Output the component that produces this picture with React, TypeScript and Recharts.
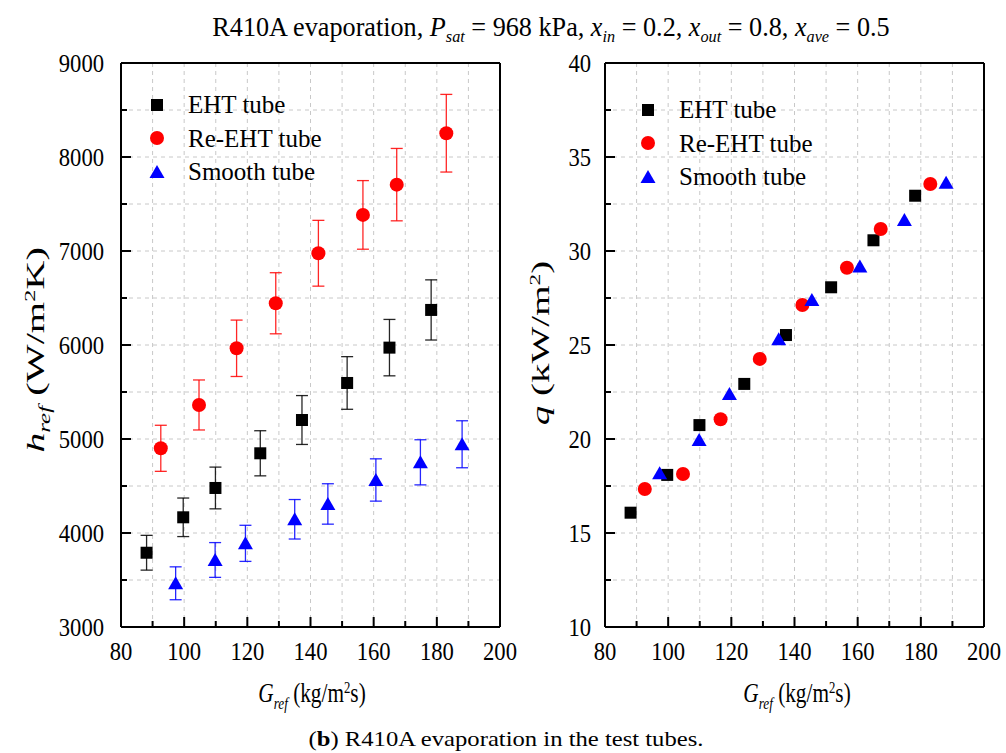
import React from "react";
import { ScatterChart, Scatter, XAxis, YAxis, CartesianGrid, ErrorBar, Legend } from "recharts";

const FONT = '"Liberation Serif", serif';

// mass flux G_ref (kg/m2s) of each test tube
const ehtG = [88.1, 99.7, 109.9, 124.1, 137.3, 151.6, 165.0, 178.2];
const reEhtG = [92.6, 104.7, 116.6, 129.0, 142.5, 156.6, 167.3, 183.0];
const smoothG = [97.3, 109.8, 119.4, 135.0, 145.5, 160.7, 174.8, 188.0];

// heat transfer coefficient h_ref (W/m2K) with uncertainty
const ehtH = [3790, 4167, 4479, 4848, 5202, 5596, 5972, 6373];
const ehtHErr = [185, 205, 222, 240, 260, 280, 300, 320];
const reEhtH = [4901, 5362, 5965, 6444, 6976, 7384, 7706, 8253];
const reEhtHErr = [245, 266, 300, 325, 350, 365, 385, 413];
const smoothH = [3465, 3713, 3890, 4146, 4309, 4564, 4752, 4944];
const smoothHErr = [175, 185, 192, 210, 215, 225, 240, 250];

// heat flux q (kW/m2)
const ehtQ = [16.08, 18.09, 20.74, 22.93, 25.53, 28.07, 30.57, 32.94];
const reEhtQ = [17.34, 18.14, 21.05, 24.26, 27.13, 29.11, 31.17, 33.56];
const smoothQ = [18.18, 19.95, 22.39, 25.3, 27.39, 29.17, 31.65, 33.63];

// axis ticks (every tick gets a grid line, only the labelled ones are major)
const gTicks = [80, 90, 100, 110, 120, 130, 140, 150, 160, 170, 180, 190, 200];
const gLabels = [80, 100, 120, 140, 160, 180, 200];
const hTicks = [3000, 3500, 4000, 4500, 5000, 5500, 6000, 6500, 7000, 7500, 8000, 8500, 9000];
const hLabels = [3000, 4000, 5000, 6000, 7000, 8000, 9000];
const qTicks = [10, 12.5, 15, 17.5, 20, 22.5, 25, 27.5, 30, 32.5, 35, 37.5, 40];
const qLabels = [10, 15, 20, 25, 30, 35, 40];

type Kind = "square" | "circle" | "triangle";

const tubes: { name: string; color: string; kind: Kind }[] = [
  { name: "EHT tube", color: "#000000", kind: "square" },
  { name: "Re-EHT tube", color: "#ff0000", kind: "circle" },
  { name: "Smooth tube", color: "#0000ff", kind: "triangle" },
];

const hSeries = [
  ehtG.map((g, i) => ({ g, v: ehtH[i], err: ehtHErr[i] })),
  reEhtG.map((g, i) => ({ g, v: reEhtH[i], err: reEhtHErr[i] })),
  smoothG.map((g, i) => ({ g, v: smoothH[i], err: smoothHErr[i] })),
];

const qSeries = [
  ehtG.map((g, i) => ({ g, v: ehtQ[i] })),
  reEhtG.map((g, i) => ({ g, v: reEhtQ[i] })),
  smoothG.map((g, i) => ({ g, v: smoothQ[i] })),
];

function Marker({ kind, cx, cy, color }: { kind: Kind; cx: number; cy: number; color: string }) {
  if (kind === "square") return <rect x={cx - 6} y={cy - 6} width={12} height={12} fill={color} />;
  if (kind === "circle") return <circle cx={cx} cy={cy} r={7} fill={color} />;
  return <polygon points={`${cx},${cy - 7} ${cx + 7.5},${cy + 6} ${cx - 7.5},${cy + 6}`} fill={color} />;
}

// inward tick marks on all four sides, labels only on bottom/left
function AxisTick(props: any) {
  const { x, y, payload, side, labels, gap } = props;
  const major = labels.includes(payload.value);
  const len = major ? 10 : 6;
  const common = { stroke: "#000", strokeWidth: 2 };
  const label = (tx: number, ty: number, anchor: "middle" | "end") => (
    <text
      transform={`translate(${tx},${ty}) scale(0.87,1)`}
      textAnchor={anchor}
      fontFamily={FONT}
      fontSize={26}
      fill="#000"
    >
      {payload.value}
    </text>
  );
  if (side === "bottom") {
    return (
      <g>
        <line x1={x} x2={x} y1={y} y2={y - len} {...common} />
        {major && label(x, y + gap, "middle")}
      </g>
    );
  }
  if (side === "top") return <line x1={x} x2={x} y1={y} y2={y + len} {...common} />;
  if (side === "left") {
    return (
      <g>
        <line x1={x} x2={x + len} y1={y} y2={y} {...common} />
        {major && label(x - gap, y + 9, "end")}
      </g>
    );
  }
  return <line x1={x} x2={x - len} y1={y} y2={y} {...common} />;
}

function LegendBox() {
  return (
    <div style={{ fontFamily: FONT }}>
      {tubes.map((t) => (
        <div key={t.name} style={{ display: "flex", alignItems: "center", height: 33.5 }}>
          <svg width={30} height={30}>
            <Marker kind={t.kind} cx={15} cy={15} color={t.color} />
          </svg>
          <span style={{ marginLeft: 16, fontSize: 25, lineHeight: 1, color: "#000", fontFamily: FONT }}>
            {t.name}
          </span>
        </div>
      ))}
    </div>
  );
}

interface PanelProps {
  width: number;
  plotLeft: number;
  yDomain: [number, number];
  yTicks: number[];
  yLabels: number[];
  data: { g: number; v: number; err?: number }[][];
  errors: boolean;
  legendLeft: number;
  legendTop: number;
  labelGap: number;
}

function Panel({ width, plotLeft, yDomain, yTicks, yLabels, data, errors, legendLeft, legendTop, labelGap }: PanelProps) {
  const plotRight = plotLeft + 379;
  return (
    <ScatterChart
      width={width}
      height={680}
      margin={{ top: 53, bottom: 23, left: plotLeft - 40, right: width - plotRight - 10 }}
    >
      <CartesianGrid stroke="#c8c8c8" strokeDasharray="4 4" strokeWidth={1} />
      <XAxis
        type="number"
        dataKey="g"
        domain={[80, 200]}
        ticks={gTicks}
        interval={0}
        height={30}
        tickSize={0}
        tickMargin={0}
        axisLine={{ stroke: "#000", strokeWidth: 2 }}
        tickLine={false}
        tick={<AxisTick side="bottom" labels={gLabels} gap={33} />}
      />
      <XAxis
        xAxisId="top"
        orientation="top"
        type="number"
        dataKey="g"
        domain={[80, 200]}
        ticks={gTicks}
        interval={0}
        height={10}
        tickSize={0}
        tickMargin={0}
        axisLine={{ stroke: "#000", strokeWidth: 2 }}
        tickLine={false}
        tick={<AxisTick side="top" labels={gLabels} gap={0} />}
      />
      <YAxis
        type="number"
        dataKey="v"
        domain={yDomain}
        ticks={yTicks}
        interval={0}
        width={40}
        tickSize={0}
        tickMargin={0}
        axisLine={{ stroke: "#000", strokeWidth: 2 }}
        tickLine={false}
        tick={<AxisTick side="left" labels={yLabels} gap={labelGap} />}
      />
      <YAxis
        yAxisId="right"
        orientation="right"
        type="number"
        dataKey="v"
        domain={yDomain}
        ticks={yTicks}
        interval={0}
        width={10}
        tickSize={0}
        tickMargin={0}
        axisLine={{ stroke: "#000", strokeWidth: 2 }}
        tickLine={false}
        tick={<AxisTick side="right" labels={yLabels} gap={0} />}
      />
      <Legend
        layout="vertical"
        align="center"
        verticalAlign="middle"
        wrapperStyle={{ left: legendLeft, top: legendTop, width: 240, height: 101 }}
        content={() => <LegendBox />}
      />
      {tubes.map((t, i) => (
        <Scatter
          key={t.name}
          name={t.name}
          data={data[i]}
          fill={t.color}
          isAnimationActive={false}
          shape={(p: any) => <Marker kind={t.kind} cx={p.cx} cy={p.cy} color={t.color} />}
        >
          {errors && (
            <ErrorBar
              dataKey="err"
              direction="y"
              width={6}
              stroke={t.color}
              strokeWidth={1.3}
              strokeOpacity={0.85}
              isAnimationActive={false}
            />
          )}
        </Scatter>
      ))}
    </ScatterChart>
  );
}

const Sub = ({ children }: { children: React.ReactNode }) => (
  <span style={{ fontSize: "0.62em", fontStyle: "italic", position: "relative", top: "0.38em" }}>{children}</span>
);
const Sup = ({ children }: { children: React.ReactNode }) => (
  <span style={{ fontSize: "0.6em", position: "relative", top: "-0.55em" }}>{children}</span>
);

const GLabel = () => (
  <>
    <i>G</i>
    <Sub>ref</Sub> (kg/m<Sup>2</Sup>s)
  </>
);

const abs = (left: number, top: number, fontSize: number, transform: string): React.CSSProperties => ({
  position: "absolute",
  left,
  top,
  fontSize,
  whiteSpace: "nowrap",
  lineHeight: 1,
  transform: `translate(-50%, -50%) ${transform}`,
});

export default function App() {
  return (
    <div
      style={{
        position: "absolute",
        left: 0,
        top: 0,
        width: 1006,
        height: 753,
        background: "#fff",
        fontFamily: FONT,
        color: "#000",
        overflow: "hidden",
      }}
    >
      <div style={{ position: "absolute", left: 0, top: 0 }}>
        <Panel
          width={520}
          plotLeft={121}
          yDomain={[3000, 9000]}
          yTicks={hTicks}
          yLabels={hLabels}
          data={hSeries}
          errors
          legendLeft={142}
          legendTop={88}
          labelGap={17}
        />
      </div>
      <div style={{ position: "absolute", left: 540, top: 0 }}>
        <Panel
          width={466}
          plotLeft={65}
          yDomain={[10, 40]}
          yTicks={qTicks}
          yLabels={qLabels}
          data={qSeries}
          errors={false}
          legendLeft={93}
          legendTop={93}
          labelGap={14}
        />
      </div>

      <div style={abs(551, 27, 27, "scaleX(0.97)")}>
        R410A evaporation, <i>P</i>
        <Sub>sat</Sub> = 968 kPa, <i>x</i>
        <Sub>in</Sub> = 0.2, <i>x</i>
        <Sub>out</Sub> = 0.8, <i>x</i>
        <Sub>ave</Sub> = 0.5
      </div>

      <div style={abs(36, 350, 26, "rotate(-90deg) scaleX(1.55)")}>
        <i>h</i>
        <Sub>ref</Sub> (W/m<Sup>2</Sup>K)
      </div>
      <div style={abs(541, 343, 26, "rotate(-90deg) scaleX(1.5)")}>
        <i>q</i> (kW/m<Sup>2</Sup>)
      </div>

      <div style={abs(312, 693, 28, "scaleX(0.76)")}>
        <GLabel />
      </div>
      <div style={abs(797, 693, 28, "scaleX(0.76)")}>
        <GLabel />
      </div>

      <div style={abs(506, 739, 22, "scaleX(1.12)")}>
        (<b>b</b>) R410A evaporation in the test tubes.
      </div>
    </div>
  );
}
